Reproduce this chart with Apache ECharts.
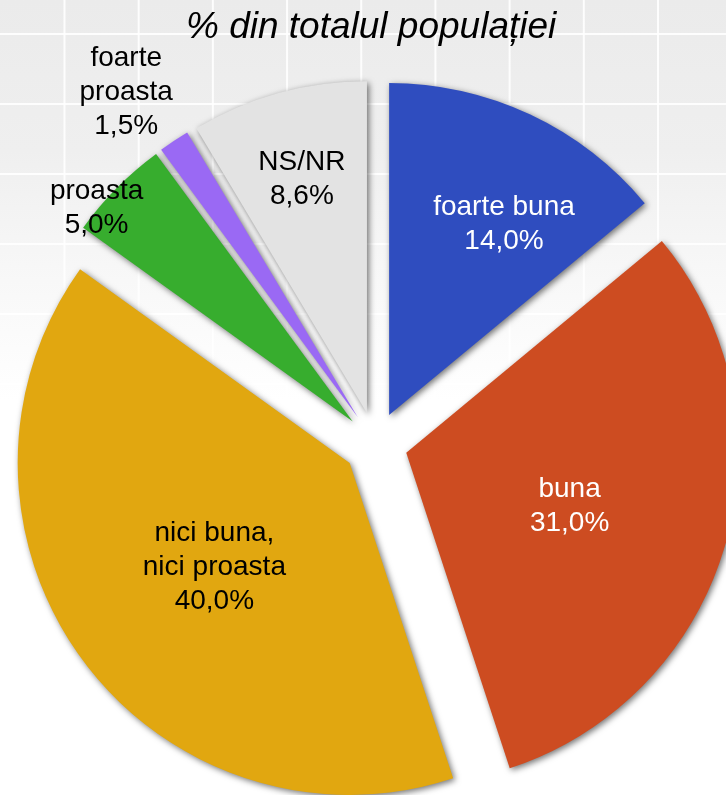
<!DOCTYPE html>
<html>
<head>
<meta charset="utf-8">
<script src="https://cdn.jsdelivr.net/npm/echarts@6/dist/echarts.min.js"></script>
<style>
    html, body {
        margin: 0;
        padding: 0;
    }
    body {
        width: 726px;
        height: 795px;
        overflow: hidden;
        background-color: #fff;
        background-image:
            linear-gradient(to right, rgba(255,255,255,0.9) 0, rgba(255,255,255,0.9) 2px, transparent 2px),
            linear-gradient(to bottom, rgba(255,255,255,0.9) 0, rgba(255,255,255,0.9) 2px, transparent 2px),
            linear-gradient(to bottom, #ebebeb 0, #efefef 150px, #f8f8f8 280px, #fff 400px);
        background-size: 74.2px 100%, 100% 70px, 100% 100%;
        background-position: 63.5px 0, 0 33px, 0 0;
        background-repeat: repeat-x, repeat-y, no-repeat;
    }
    #main {
        width: 726px;
        height: 795px;
    }
</style>
</head>
<body>
<div id="main"></div>
<script>
    // data
    var categories = ['foarte buna', 'buna', 'nici buna,\nnici proasta', 'proasta', 'foarte\nproasta', 'NS/NR'];
    var values = [14.0, 31.0, 40.0, 5.0, 1.5, 8.6];

    var colors = ['#2f4dbf', '#cd4c21', '#e1a710', '#37ad2e', '#9a69f4', '#e3e3e3'];
    var labelColors = ['#fff', '#fff', '#000', '#000', '#000', '#000'];
    // nudges of the labels away from the default inside spot (as placed in the original)
    var labelNudge = [[43, -38], [1, 7], [1, 4], [-136, -94], [-138, -184], [-20, -71]];

    var pieData = [];
    for (var i = 0; i < categories.length; i++) {
        pieData.push({
            name: categories[i],
            value: values[i],
            selected: true,
            itemStyle: {color: colors[i]},
            label: {color: labelColors[i]}
        });
    }

    var myChart = echarts.init(document.getElementById('main'));
    var option = {
        animation: false,
        title: {
            text: '% din totalul populației',
            left: 181,
            top: 4,
            textStyle: {
                fontFamily: 'Liberation Sans, Arial, sans-serif',
                fontStyle: 'italic',
                fontWeight: 'normal',
                fontSize: 37,
                color: '#000'
            }
        },
        series: [
            {
                type: 'pie',
                center: [375.5, 444],
                radius: 332,
                startAngle: 90,
                clockwise: true,
                selectedMode: 'multiple',
                selectedOffset: 32,
                avoidLabelOverlap: false,
                itemStyle: {
                    borderWidth: 0,
                    shadowBlur: 6,
                    shadowOffsetX: 2,
                    shadowOffsetY: 2,
                    shadowColor: 'rgba(0,0,0,0.55)'
                },
                select: {
                    itemStyle: {
                        borderWidth: 0
                    }
                },
                emphasis: {disabled: true},
                label: {
                    show: true,
                    position: 'inside',
                    fontFamily: 'Liberation Sans, Arial, sans-serif',
                    fontSize: 28,
                    lineHeight: 34,
                    align: 'center',
                    formatter: function (p) {
                        return p.name + '\n' + p.value.toFixed(1).replace('.', ',') + '%';
                    }
                },
                labelLine: {show: false},
                labelLayout: function (params) {
                    var n = labelNudge[params.dataIndex];
                    return {dx: n[0], dy: n[1]};
                },
                data: pieData
            }
        ]
    };
    myChart.setOption(option);
</script>
</body>
</html>
